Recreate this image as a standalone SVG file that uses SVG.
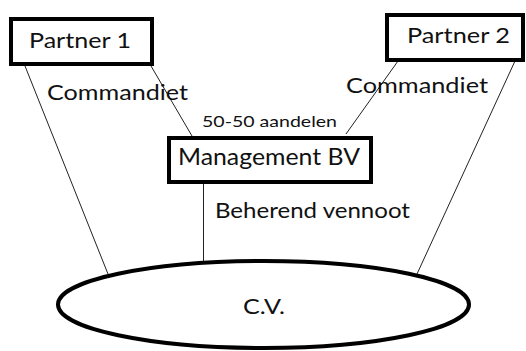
<svg xmlns="http://www.w3.org/2000/svg" width="526" height="351" viewBox="0 0 526 351">
<style>
.box{fill:#fff;stroke:#000;stroke-width:4}
.ln{stroke:#222;stroke-width:1;fill:none}
text{font-family:Lato,"Liberation Sans",Arial,sans-serif;fill:#111}
</style>
<rect width="526" height="351" fill="#fff"/>
<g id="connectors">
<line class="ln" x1="25" y1="66" x2="108" y2="274"/>
<line class="ln" x1="151" y1="66" x2="192" y2="136"/>
<line class="ln" x1="398" y1="61" x2="346" y2="134"/>
<line class="ln" x1="515" y1="61" x2="417" y2="274"/>
<line class="ln" x1="203.5" y1="184" x2="203.5" y2="262"/>
</g>
<g id="cv">
<ellipse class="box" cx="263.5" cy="304.5" rx="205.5" ry="43.5"/>
<text x="243" y="314" font-size="22" textLength="42" lengthAdjust="spacingAndGlyphs">C.V.</text>
</g>
<g id="partner1">
<rect class="box" x="11" y="19" width="141" height="45"/>
<text x="29" y="48" font-size="22" textLength="102" lengthAdjust="spacingAndGlyphs">Partner 1</text>
</g>
<g id="partner2">
<rect class="box" x="387" y="15" width="136" height="45"/>
<text x="407" y="43" font-size="22" textLength="103" lengthAdjust="spacingAndGlyphs">Partner 2</text>
</g>
<g id="management">
<rect class="box" x="169" y="138" width="202" height="44"/>
<text x="178" y="165" font-size="24" textLength="182" lengthAdjust="spacingAndGlyphs">Management BV</text>
</g>
<g id="labels">
<text x="47" y="100" font-size="22" textLength="141" lengthAdjust="spacingAndGlyphs">Commandiet</text>
<text x="346" y="93" font-size="22" textLength="142" lengthAdjust="spacingAndGlyphs">Commandiet</text>
<text x="202" y="127" font-size="16" textLength="135" lengthAdjust="spacingAndGlyphs">50-50 aandelen</text>
<text x="215" y="218" font-size="22" textLength="195" lengthAdjust="spacingAndGlyphs">Beherend vennoot</text>
</g>
</svg>
